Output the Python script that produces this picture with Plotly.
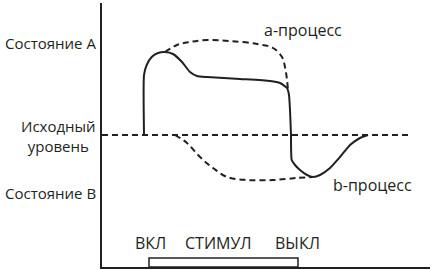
import plotly.graph_objects as go

# time (arbitrary units) and level (baseline = 0)
response_t = [42, 42, 44.7, 49.7, 56, 63, 71, 80, 88, 95, 105, 138, 168, 178, 185, 187, 188, 189, 189, 189.7, 193, 198, 205, 211, 218, 228, 238, 248, 258, 266]
response_y = [0, 60, 70, 78, 82, 83, 81, 73, 63, 59, 58, 56, 54, 52, 47, 40, 25, 0, -1, -25, -30, -35, -40, -42, -40, -33, -22, -10, -3, 0]

a_t = [63, 75, 88, 105, 128, 155, 171, 180, 183, 185, 186]
a_y = [83, 90, 93, 95, 94, 91, 87, 78, 68, 55, 45]

b_t = [73, 85, 98, 111, 125, 145, 171, 195, 210]
b_y = [0, -8, -22, -33, -42, -45, -45, -43, -42]

baseline_t = [0, 308]
baseline_y = [0, 0]

stim_on, stim_off = 47, 196
stim_bottom, stim_top = -132, -123

left_labels = ["Состояние A", "Исходный<br>уровень", "Состояние B"]
left_label_y = [92, -1, -58]

stim_labels = ["ВКЛ", "СТИМУЛ", "ВЫКЛ"]
stim_label_t = [48, 116, 195]
stim_label_y = -108

proc_labels = ["a-процесс", "b-процесс"]
proc_label_t = [201, 270]
proc_label_y = [105, -50]

INK = "#231f20"
FONT_LEFT = dict(family="Open Sans", size=15, color=INK)
FONT = dict(family="Open Sans", size=16, color=INK)

fig = go.Figure()
fig.add_trace(go.Scatter(x=baseline_t, y=baseline_y, mode="lines",
                         line=dict(color=INK, width=2, dash="6px,4px"), hoverinfo="skip"))
fig.add_trace(go.Scatter(x=a_t, y=a_y, mode="lines", line_shape="spline",
                         line=dict(color=INK, width=2, dash="6px,4px"), hoverinfo="skip"))
fig.add_trace(go.Scatter(x=b_t, y=b_y, mode="lines", line_shape="spline",
                         line=dict(color=INK, width=2, dash="6px,4px"), hoverinfo="skip"))
fig.add_trace(go.Scatter(x=response_t, y=response_y, mode="lines", line_shape="spline",
                         line=dict(color=INK, width=2, smoothing=0.5), hoverinfo="skip"))

fig.add_shape(type="rect", x0=stim_on, x1=stim_off, y0=stim_bottom, y1=stim_top,
              line=dict(color=INK, width=1.5), fillcolor="white", layer="above")

annotations = []
for txt, yv in zip(left_labels, left_label_y):
    annotations.append(dict(text=txt, xref="paper", x=0, xanchor="right", xshift=-4,
                            yref="y", y=yv, yanchor="middle", showarrow=False,
                            align="center", font=FONT_LEFT))
for txt, tv in zip(stim_labels, stim_label_t):
    annotations.append(dict(text=txt, xref="x", x=tv, yref="y", y=stim_label_y,
                            showarrow=False, font=FONT))
for txt, tv, yv in zip(proc_labels, proc_label_t, proc_label_y):
    annotations.append(dict(text=txt, xref="x", x=tv, yref="y", y=yv,
                            showarrow=False, font=FONT))

fig.update_layout(
    width=432, height=270,
    margin=dict(l=102, r=2, t=3, b=3),
    paper_bgcolor="white", plot_bgcolor="white",
    showlegend=False,
    annotations=annotations,
    xaxis=dict(range=[0, 328], showline=True, linecolor=INK, linewidth=2,
               showgrid=False, zeroline=False, showticklabels=False, ticks=""),
    yaxis=dict(range=[-132, 132], showline=True, linecolor=INK, linewidth=2,
               showgrid=False, zeroline=False, showticklabels=False, ticks=""),
)

fig.write_html("out.html", config={"displayModeBar": False})
